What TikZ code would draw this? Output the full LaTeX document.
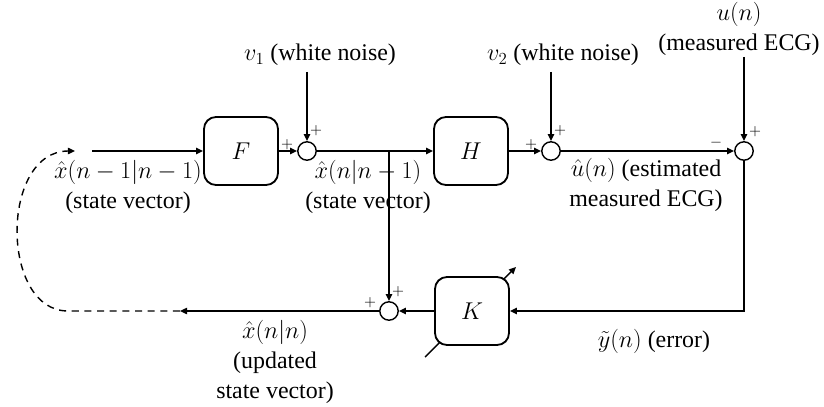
\documentclass[tikz,border=0pt]{standalone}
\usepackage{fontspec}
\setmainfont{Liberation Serif}
\usetikzlibrary{arrows.meta}

\begin{document}
\begin{tikzpicture}[
    x=0.025cm, y=-0.025cm,
    font=\fontsize{17}{21.5}\selectfont,
    block/.style={draw, rounded corners=0.3cm, minimum width=1.85cm, minimum height=1.7cm, line width=1.3pt, fill=white},
    sum/.style={draw, circle, minimum size=0.46cm, inner sep=0pt, line width=1pt, fill=white},
    lab/.style={inner sep=0pt, align=center},
    sign/.style={inner sep=0pt, font=\fontsize{11}{11}\selectfont},
    arrow/.style={-{Triangle[length=5pt,width=4.5pt]}, line width=1pt},
    feedback/.style={-{Triangle[length=5pt,width=4.5pt]}, line width=1pt, dash pattern=on 5pt off 4pt}
]
\useasboundingbox (0,0) rectangle (824,407);

% adaptive gain arrow, drawn under K
\coordinate (kin) at (425,357);
\coordinate (kout) at (516,267);
\draw[arrow] (kin) -- (kout);

\node[block] (F) at (241,151) {$F$};
\node[block] (H) at (471,151) {$H$};
\node[block] (K) at (472,311) {$K$};

\node[sum] (s1) at (307,151) {};
\node[sum] (s2) at (551,151) {};
\node[sum] (s3) at (744,151) {};
\node[sum] (s4) at (389,311) {};

\coordinate (xin) at (92,151);
\coordinate (xback) at (75,151);
\coordinate (v1) at (307,72);
\coordinate (v2) at (551,72);
\coordinate (u) at (744,57);
\coordinate (branch) at (389,151);
\coordinate (corner) at (744,311);
\coordinate (xout) at (180,311);
\coordinate (turn) at (68,311);

\draw[arrow] (xin) -- (F.west);
\draw[arrow] (F.east) -- (s1.west);
\draw[arrow] (v1) -- (s1.north);
\draw[arrow] (s1.east) -- (H.west);
\draw[arrow] (H.east) -- (s2.west);
\draw[arrow] (v2) -- (s2.north);
\draw[arrow] (s2.east) -- (s3.west);
\draw[arrow] (u) -- (s3.north);
\draw[arrow] (branch) -- (s4.north);
\draw[arrow] (s3.south) -- (corner) -- (K.east);
\draw[arrow] (K.west) -- (s4.east);
\draw[arrow] (s4.west) -- (xout);
\draw[feedback] (xout) -- (turn) .. controls (0,311) and (0,151) .. (xback);

% signal labels
\node[lab] (lxprev) at (128,187) {$\hat{x}(n-1|n-1)$\\(state vector)};
\node[lab] (lxpred) at (368,187) {$\hat{x}(n|n-1)$\\(state vector)};
\node[lab] (lv1) at (320,55) {$v_1$ (white noise)};
\node[lab] (lv2) at (563,55) {$v_2$ (white noise)};
\node[lab] (lu) at (739,29) {$u(n)$\\(measured ECG)};
\node[lab] (luhat) at (646,185) {$\hat{u}(n)$ (estimated\\measured ECG)};
\node[lab] (ly) at (654,341) {$\tilde{y}(n)$ (error)};
\node[lab] (lxupd) at (275,362) {$\hat{x}(n|n)$\\(updated\\state vector)};

% signs
\node[sign] (p1a) at (287,145) {$+$};
\node[sign] (p1b) at (316,131) {$+$};
\node[sign] (p2a) at (531,145) {$+$};
\node[sign] (p2b) at (560,131) {$+$};
\node[sign] (m3a) at (716,143) {$-$};
\node[sign] (p3b) at (755,132) {$+$};
\node[sign] (p4a) at (370,303) {$+$};
\node[sign] (p4b) at (398,292) {$+$};
\end{tikzpicture}
\end{document}
